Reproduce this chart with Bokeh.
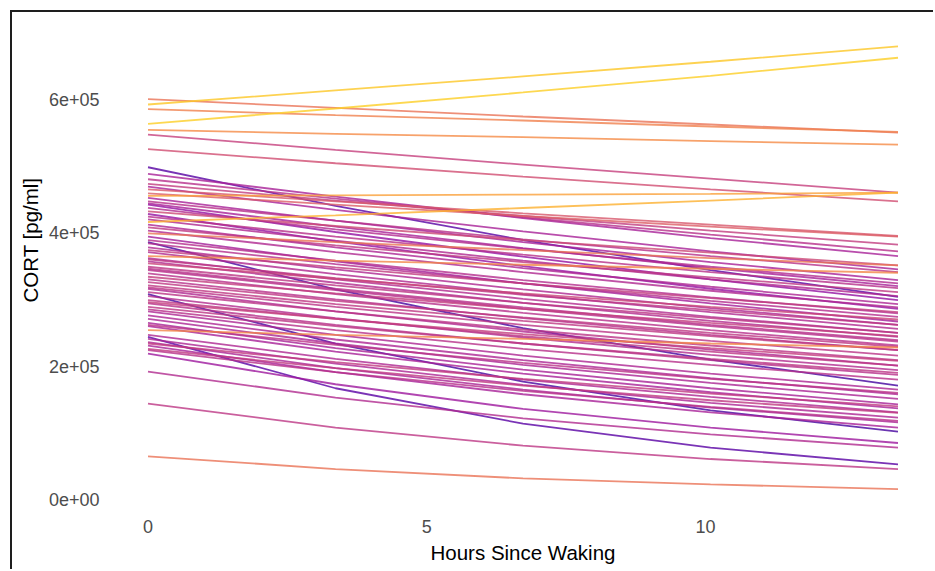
import numpy as np
from bokeh.plotting import figure
from bokeh.models import ColumnDataSource, Range1d, FixedTicker, LinearColorMapper, Title
from bokeh.palettes import Plasma256
from bokeh.embed import file_html
from bokeh.resources import INLINE

# ---- data ----
hours = [0.0, 3.3625, 6.725, 10.0875, 13.45]

cort_h0 = [600000, 592000, 585000, 563000, 554000, 547000, 525000,
           498000, 488000, 480000, 473000, 469000, 465000, 459000, 455000,
           452000, 447000, 444000, 442000, 437000, 432000, 428000, 424000,
           420000, 416000, 412000, 408000, 403000, 399000, 394000, 389000,
           386000, 384000, 378000, 374000, 371000, 365000, 362000, 360000,
           357000, 354000, 349000, 346000, 344000, 339000, 334000, 330000,
           326000, 321000, 318000, 316000, 311000, 308000, 305000, 299000,
           296000, 294000, 289000, 285000, 282000, 276000, 271000, 265000,
           262000, 260000, 254000, 247000, 244000, 241000, 236000, 234000,
           231000, 226000, 224000, 219000, 192000, 144000, 65000]

cort_h3 = [587000, 613000, 576000, 586000, 548000, 524000, 504000,
           440000, 454000, 451000, 448000, 434000, 447000, 442000, 456000,
           418000, 418000, 409000, 401000, 405000, 410000, 387000, 394000,
           388000, 426000, 378000, 381000, 371000, 386000, 357000, 358000,
           315000, 353000, 345000, 348000, 338000, 358000, 330000, 332000,
           325000, 331000, 321000, 316000, 314000, 308000, 309000, 300000,
           298000, 293000, 289000, 282000, 282000, 234000, 272000, 271000,
           271000, 262000, 260000, 254000, 247000, 240000, 234000, 227000,
           232000, 222000, 247000, 211000, 167000, 204000, 197000, 206000,
           191000, 197000, 191000, 173000, 153000, 108000, 46000]

cort_h7 = [574000, 634000, 568000, 610000, 543000, 502000, 484000,
           389000, 422000, 423000, 425000, 402000, 429000, 425000, 457000,
           386000, 390000, 377000, 364000, 376000, 389000, 350000, 367000,
           358000, 437000, 347000, 356000, 341000, 374000, 324000, 329000,
           257000, 324000, 315000, 324000, 308000, 352000, 301000, 307000,
           295000, 309000, 295000, 288000, 286000, 280000, 286000, 272000,
           273000, 268000, 262000, 252000, 255000, 177000, 243000, 245000,
           248000, 234000, 234000, 226000, 216000, 209000, 202000, 195000,
           205000, 189000, 241000, 180000, 114000, 172000, 165000, 181000,
           158000, 171000, 163000, 136000, 122000, 81000, 32000]

cort_h10 = [562000, 656000, 559000, 635000, 537000, 481000, 465000,
            344000, 392000, 397000, 403000, 372000, 412000, 409000, 458000,
            356000, 365000, 347000, 330000, 349000, 370000, 316000, 341000,
            330000, 448000, 319000, 333000, 313000, 362000, 294000, 303000,
            210000, 298000, 287000, 302000, 281000, 346000, 274000, 284000,
            268000, 289000, 272000, 262000, 260000, 254000, 265000, 247000,
            250000, 245000, 238000, 225000, 231000, 134000, 217000, 222000,
            227000, 209000, 211000, 202000, 189000, 182000, 175000, 167000,
            181000, 161000, 234000, 154000, 78000, 145000, 138000, 159000,
            131000, 149000, 139000, 108000, 98000, 61000, 23000]

cort_h13 = [550000, 679000, 551000, 662000, 532000, 460000, 447000,
            304000, 365000, 372000, 382000, 345000, 395000, 394000, 460000,
            329000, 341000, 320000, 299000, 324000, 351000, 286000, 317000,
            305000, 460000, 293000, 311000, 288000, 351000, 267000, 279000,
            171000, 274000, 262000, 281000, 256000, 340000, 250000, 262000,
            244000, 270000, 250000, 239000, 237000, 231000, 245000, 224000,
            229000, 224000, 216000, 201000, 209000, 102000, 194000, 201000,
            208000, 187000, 190000, 180000, 165000, 158000, 151000, 143000,
            160000, 137000, 228000, 131000, 53000, 123000, 116000, 140000,
            108000, 130000, 118000, 85000, 78000, 46000, 16000]

y_ticks = [0, 200000, 400000, 600000]
y_tick_labels = ["0e+00", "2e+05", "4e+05", "6e+05"]
x_ticks = [0, 5, 10]

change = [e - s for s, e in zip(cort_h0, cort_h13)]

# ---- colour ramp (plasma) ----
c_lo, c_hi = -210000, 100000
anchor_change = [-210000, -114000, -87000, -50000, 0, 45000, 100000]
anchor_pos = [0.1, 0.4, 0.48, 0.65, 0.78, 0.83, 0.9]
grid = np.linspace(c_lo, c_hi, 256)
pal = [Plasma256[int(round(np.interp(g, anchor_change, anchor_pos) * 255))] for g in grid]
mapper = LinearColorMapper(palette=pal, low=c_lo, high=c_hi)

n = len(cort_h0)
order = sorted(range(n), key=lambda i: change[i])
src = ColumnDataSource(dict(
    xs=[hours for _ in order],
    ys=[[cort_h0[i], cort_h3[i], cort_h7[i], cort_h10[i], cort_h13[i]] for i in order],
    change=[change[i] for i in order],
))

p = figure(width=923, height=559,
           x_range=Range1d(-0.6725, 14.1225), y_range=Range1d(-14600, 711800),
           output_backend="svg", toolbar_location=None,
           min_border_left=98, min_border_right=0, min_border_top=12, min_border_bottom=62)
p.styles = {"box-shadow": "-2px -2px 0px 0px #1e1e1e",
            "margin-left": "12px", "margin-top": "12px"}

p.multi_line("xs", "ys", source=src,
             line_color={"field": "change", "transform": mapper},
             line_width=1.8, line_alpha=0.8)

p.outline_line_color = None
p.grid.grid_line_color = None
p.background_fill_color = "white"
p.border_fill_color = "white"

for ax in (p.xaxis[0], p.yaxis[0]):
    ax.axis_line_color = None
    ax.major_tick_line_color = None
    ax.minor_tick_line_color = None
    ax.major_tick_out = 0
    ax.major_tick_in = 0
    ax.major_label_text_font = "Liberation Sans"
    ax.major_label_text_font_size = "18px"
    ax.major_label_text_color = "#4d4d4d"
    ax.axis_label_text_font = "Liberation Sans"
    ax.axis_label_text_font_size = "20.5px"
    ax.axis_label_text_font_style = "normal"
    ax.axis_label_text_color = "black"

p.xaxis.ticker = FixedTicker(ticks=x_ticks)
p.xaxis.axis_label = "Hours Since Waking"
p.xaxis.major_label_standoff = 10
p.xaxis.axis_label_standoff = 5

p.yaxis.ticker = FixedTicker(ticks=y_ticks)
p.yaxis.major_label_overrides = {t: l for t, l in zip(y_ticks, y_tick_labels)}
p.yaxis.major_label_standoff = 11

p.add_layout(Title(text="CORT [pg/ml]", align="left", offset=207,
                   text_font="Liberation Sans", text_font_size="20.5px",
                   text_font_style="normal", text_color="black", standoff=8), "left")

open("out.html", "w").write(file_html(p, INLINE))
